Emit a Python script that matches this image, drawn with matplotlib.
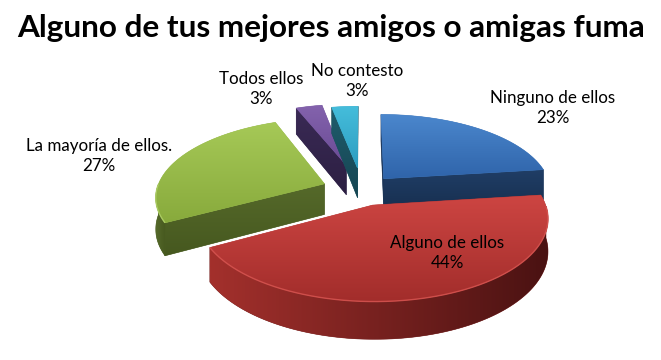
import numpy as np
import matplotlib
matplotlib.use("Agg")
import matplotlib.pyplot as plt
from matplotlib.patches import Polygon
from matplotlib.colors import to_rgb

# ---------------- data ----------------
title = "Alguno de tus mejores amigos o amigas fuma"
categories = ["Ninguno de ellos", "Alguno de ellos", "La mayoría de ellos.", "Todos ellos", "No contesto"]
values = [23, 44, 27, 3, 3]
pct_labels = ["23%", "44%", "27%", "3%", "3%"]

# ---------------- style ----------------
explode = [0.20, 0.20, 0.24, 0.35, 0.30]
top_colors = [("#4b87cd", "#2f64aa"), ("#cd4542", "#a22d2b"), ("#a6c957", "#88aa3c"),
              ("#8463ad", "#6a4b95"), ("#45bddb", "#2c9cc0")]
side_colors = [("#203e66", "#172f50"), ("#a3302c", "#4a1212"), ("#55692a", "#46581f"),
               ("#3a2a55", "#2c1f42"), ("#1f5c6c", "#164552")]
edge_hi = ["#5a94d6", "#d85652", "#b2d36a", "#9274bb", "#5cc6e0"]
label_pos = [(553, 108), (447, 253), (99, 156), (261, 89), (357, 81)]
FONT = ["Lato", "DejaVu Sans"]

# projection parameters (pixel space)
X0, Y0, R, K, P, H = 362.0, 190.0, 168.0, 77.0, 0.15, 31.0
CAM = np.array([0.0, -1.0 / P])


def proj(u, v, z):
    f = 1.0 / (1.0 + P * v)
    return X0 + R * u * f, Y0 - K * v * f - H * z * f


def grad_poly(ax, pts, c0, c1, horizontal=False, z=1):
    pts = np.asarray(pts)
    xmin, ymin = pts.min(0)
    xmax, ymax = pts.max(0)
    c0, c1 = np.array(to_rgb(c0)), np.array(to_rgb(c1))
    mid = (c0 + c1) / 2
    base = Polygon(pts, closed=True, facecolor=mid, edgecolor=mid, lw=0.4, zorder=z)
    ax.add_patch(base)
    t = np.linspace(0, 1, 128)
    cols = c0[None, :] * (1 - t[:, None]) + c1[None, :] * t[:, None]
    img = cols[None, :, :] if horizontal else cols[:, None, :]
    im = ax.imshow(img, extent=(xmin, xmax, ymax, ymin), origin="upper", aspect="auto",
                   interpolation="bilinear", zorder=z + 0.01)
    im.set_clip_path(base)


fig = plt.figure(figsize=(6.61, 3.60), dpi=100)
ax = fig.add_axes([0, 0, 1, 1])
ax.set_axis_off()

total = float(sum(values))
cum = np.concatenate([[0], np.cumsum(values)])
slices = []
for i, val in enumerate(values):
    t_start = 90 - 360 * cum[i] / total
    t_end = 90 - 360 * cum[i + 1] / total
    t1, t2 = t_end, t_start  # ccw from t1 to t2
    mid = np.radians((t1 + t2) / 2)
    apex = explode[i] * np.array([np.cos(mid), np.sin(mid)])
    slices.append((i, t1, t2, apex))

order = sorted(slices, key=lambda s: -s[3][1])
zc = 1
for i, t1, t2, apex in order:
    au, av = apex
    ts = np.radians(np.linspace(t1, t2, 200))
    # radial walls
    for tt, nang in ((t1, t1 - 90), (t2, t2 + 90)):
        n = np.array([np.cos(np.radians(nang)), np.sin(np.radians(nang))])
        if n @ (CAM - apex) > 0:
            ou, ov = au + np.cos(np.radians(tt)), av + np.sin(np.radians(tt))
            pts = [proj(au, av, 0), proj(ou, ov, 0), proj(ou, ov, -1), proj(au, av, -1)]
            grad_poly(ax, pts, side_colors[i][0], side_colors[i][1], horizontal=False, z=zc)
            zc += 1
    # outer wall (front half)
    vis = np.sin(ts) < 0
    if vis.sum() > 1:
        tv = ts[vis]
        top = [proj(au + np.cos(t), av + np.sin(t), 0) for t in tv]
        bot = [proj(au + np.cos(t), av + np.sin(t), -1) for t in tv[::-1]]
        grad_poly(ax, top + bot, side_colors[i][0], side_colors[i][1], horizontal=True, z=zc)
        zc += 1
    # top face
    pts = [proj(au, av, 0)] + [proj(au + np.cos(t), av + np.sin(t), 0) for t in ts]
    grad_poly(ax, pts, top_colors[i][0], top_colors[i][1], horizontal=False, z=zc)
    if vis.sum() > 1:
        tv = ts[vis]
        hx, hy = zip(*[proj(au + np.cos(t), av + np.sin(t), 0) for t in tv])
        ax.plot(hx, hy, color=edge_hi[i], lw=1.0, alpha=0.8, zorder=zc + 0.5,
                solid_capstyle="butt")
    zc += 1

# labels
lbls = []
for i in range(len(values)):
    x, y = label_pos[i]
    lbls.append(ax.text(x, y, categories[i] + "\n" + pct_labels[i], ha="center", va="center",
                        multialignment="center", fontsize=11, family=FONT, color="#000000",
                        linespacing=1.3, zorder=100))
tt = ax.text(331, 28, title, ha="center", va="center", fontsize=20, fontweight="bold",
             family=FONT, color="#000000", zorder=100)

ax.set_xlim(0, 661)
ax.set_ylim(360, 0)

# fit text widths to the reference
fig.canvas.draw()
r = fig.canvas.get_renderer()
w = tt.get_window_extent(r).width
tt.set_fontsize(20 * 627 / w)
probe = ax.text(0, 0, categories[0], fontsize=11, family=FONT)
w2 = probe.get_window_extent(r).width
probe.remove()
for l in lbls:
    l.set_fontsize(11 * 125 / w2)

fig.savefig("out.png", dpi=100)
